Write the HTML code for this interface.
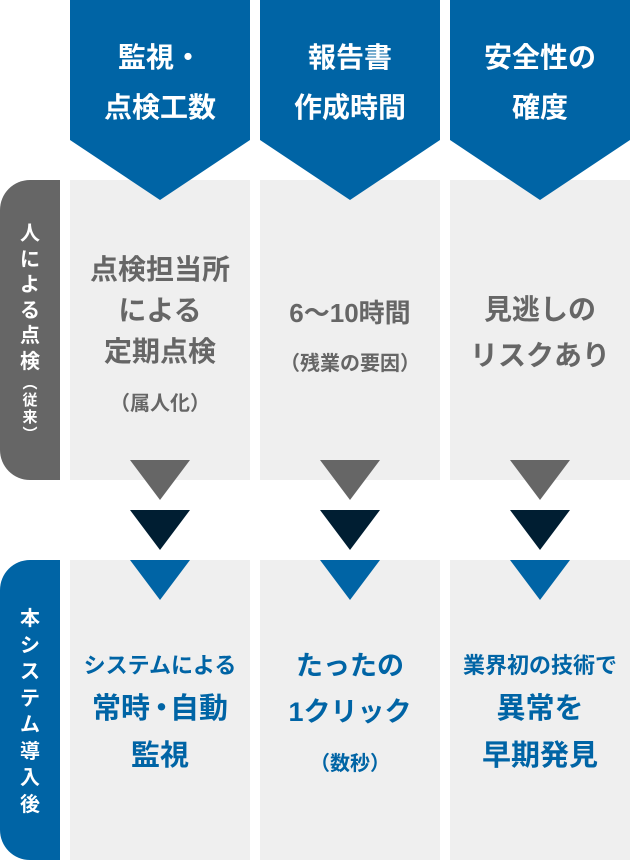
<!DOCTYPE html>
<html><head><meta charset="utf-8"><style>
body{margin:0;width:630px;height:860px;position:relative;background:#fff;font-family:"Liberation Sans","Noto Sans CJK JP",sans-serif;font-weight:bold;overflow:hidden}
.a{position:absolute}
.panel{position:absolute;width:180px;height:300px;background:#efefef}
.t{position:absolute;width:180px;text-align:center;white-space:nowrap}
.lab{position:absolute;left:0;width:60px;height:300px;border-radius:30px 0 0 30px;color:#fff;font-size:20px;text-align:center}
</style></head><body>
<div class="panel" style="left:70px;top:180px"></div>
<div class="panel" style="left:260px;top:180px"></div>
<div class="panel" style="left:450px;top:180px"></div>
<div class="panel" style="left:70px;top:560px"></div>
<div class="panel" style="left:260px;top:560px"></div>
<div class="panel" style="left:450px;top:560px"></div>
<div class="lab" style="top:180px;background:#666"><div style="padding-top:42px;line-height:25.5px">人<br>に<br>よ<br>る<br>点<br>検<br><span style="font-size:15px;line-height:17px;display:block">︵<br>従<br>来<br>︶</span></div></div>
<div class="lab" style="top:560px;background:#0064a5"><div style="padding-top:46px;line-height:26.5px">本<br>シ<br>ス<br>テ<br>ム<br>導<br>入<br>後</div></div>
<svg class="a" style="left:0;top:0" width="630" height="860">
<g fill="#0064a5">
<polygon points="70,0 250,0 250,140 160,200 70,140"/>
<polygon points="260,0 440,0 440,140 350,200 260,140"/>
<polygon points="450,0 630,0 630,140 540,200 450,140"/>
</g>
<g fill="#666"><polygon points="130,460 190,460 160,500"/><polygon points="320,460 380,460 350,500"/><polygon points="510,460 570,460 540,500"/></g>
<g fill="#001e32"><polygon points="130,510 190,510 160,550"/><polygon points="320,510 380,510 350,550"/><polygon points="510,510 570,510 540,550"/></g>
<g fill="#0064a5"><polygon points="130,560 190,560 160,600"/><polygon points="320,560 380,560 350,600"/><polygon points="510,560 570,560 540,600"/></g>
</svg>
<div class="t" style="left:70px;top:33px;color:#fff;font-size:28px;line-height:50px">監視・<br>点検工数</div>
<div class="t" style="left:260px;top:33px;color:#fff;font-size:28px;line-height:50px">報告書<br>作成時間</div>
<div class="t" style="left:450px;top:33px;color:#fff;font-size:28px;line-height:50px">安全性の<br>確度</div>
<div class="t" style="left:70px;top:249px;color:#666;font-size:28px;line-height:41px">点検担当所<br>による<br>定期点検</div>
<div class="t" style="left:70px;top:387px;color:#666;font-size:20px">（属人化）</div>
<div class="t" style="left:260px;top:293px;color:#666;font-size:26px">6〜10時間</div>
<div class="t" style="left:260px;top:347px;color:#666;font-size:20px">（残業の要因）</div>
<div class="t" style="left:450px;top:287px;color:#666;font-size:28px;line-height:46px">見逃しの<br>リスクあり</div>
<div class="t" style="left:70px;top:648px;color:#0064a5;font-size:22px">システムによる</div>
<div class="t" style="left:70px;top:686px;color:#0064a5;font-size:29px;line-height:47px">常時<span style="letter-spacing:-6px;margin-left:-3px">・</span>自動<br>監視</div>
<div class="t" style="left:260px;top:643px;color:#0064a5;font-size:27px;line-height:46px">たったの<br>1クリック</div>
<div class="t" style="left:260px;top:747px;color:#0064a5;font-size:20px">（数秒）</div>
<div class="t" style="left:450px;top:648px;color:#0064a5;font-size:22px">業界初の技術で</div>
<div class="t" style="left:450px;top:686px;color:#0064a5;font-size:29px;line-height:47px">異常を<br>早期発見</div>
</body></html>
